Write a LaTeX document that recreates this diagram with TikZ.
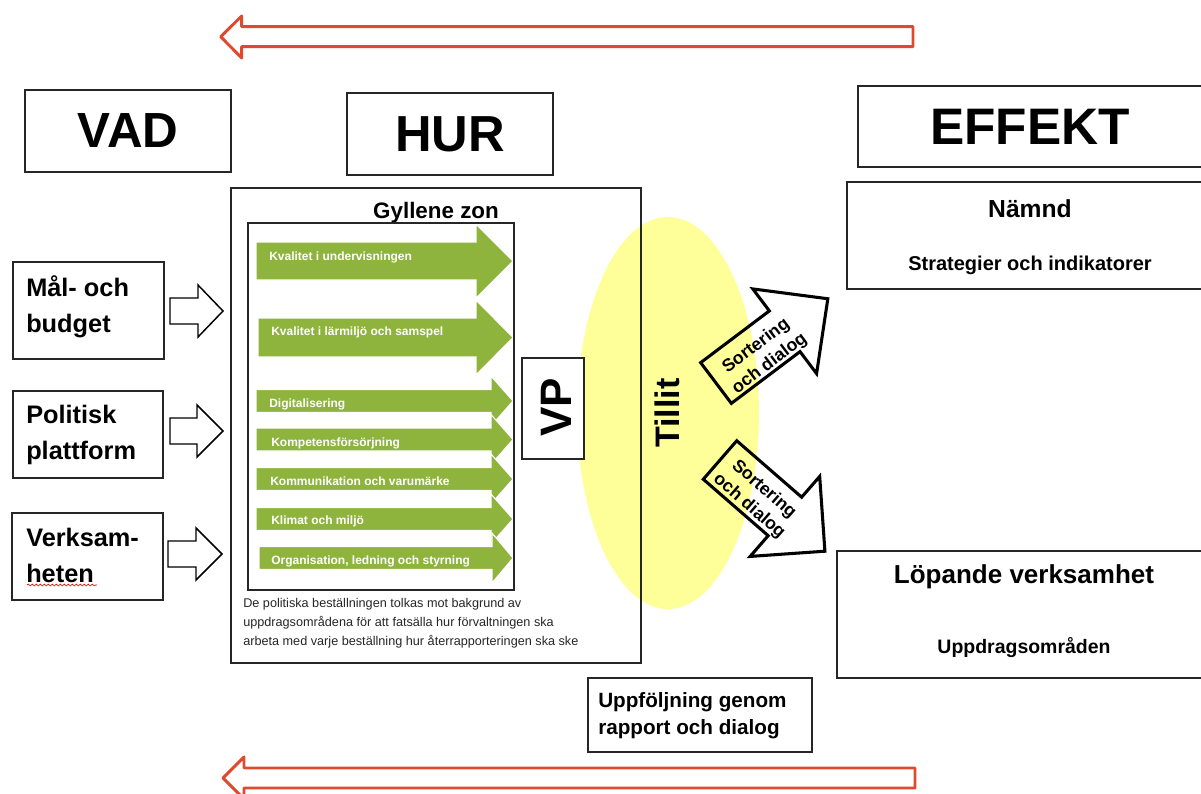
\documentclass[tikz,border=0pt]{standalone}
\usepackage{fontspec}
\setmainfont{Liberation Sans}
\usetikzlibrary{fit,shapes.geometric,decorations.pathmorphing}
\definecolor{gzgreen}{RGB}{142,180,62}
\definecolor{tyellow}{RGB}{255,255,153}
\definecolor{ared}{RGB}{224,74,44}
\newcommand\fsz[2]{\fontsize{#1}{#2}\selectfont}
% green arrow: start x, centre y, body half, head half, head base x, tip x
\newcommand\garrow[6]{\draw[garr] (#1,{#2-#3}) -- (#5,{#2-#3}) -- (#5,{#2-#4}) -- (#6,#2) -- (#5,{#2+#4}) -- (#5,{#2+#3}) -- (#1,{#2+#3}) -- cycle;}
% white block arrow: start x, centre y, head base x, tip x
\newcommand\warrow[4]{\draw[whitearrow] (#1,{#2-13}) -- (#3,{#2-13}) -- (#3,{#2-26}) -- (#4,#2) -- (#3,{#2+26}) -- (#3,{#2+13}) -- (#1,{#2+13}) -- cycle;}
\begin{document}
\begin{tikzpicture}[x=0.75pt,y=-0.75pt,
  box/.style={draw=black!85,line width=0.8pt,inner sep=0pt},
  redarrow/.style={draw=ared,line width=2.2pt,line join=round},
  whitearrow/.style={draw=black,line width=1.1pt,fill=white},
  garr/.style={fill=gzgreen,draw=white,line width=0.8pt},
  glabel/.style={anchor=mid west,inner sep=0pt,text=white,font=\fsz{9}{11}\bfseries},
  sortarrow/.style={draw=black,line width=2.3pt},
  sortlabel/.style={inner sep=0pt,align=center,font=\fsz{13.3}{16.8}\bfseries},
  boxtext/.style={anchor=north west,inner sep=0pt,align=left,font=\fsz{19}{27}\bfseries},
  head/.style={inner sep=0pt,font=\fsz{#1}{#1}\bfseries},
  ]
\useasboundingbox (0,0) rectangle (1201,793);

% red return arrows
\draw[redarrow] (220.7,36.7) -- (241.7,16) -- (241.7,26.7) -- (913,26.7) -- (913,46.7) -- (241.7,46.7) -- (241.7,58) -- cycle;
\draw[redarrow] (223,778) -- (244,757) -- (244,768) -- (915,768) -- (915,788) -- (244,788) -- (244,799) -- cycle;

% header boxes
\node[box,fit={(25,90)(231,172)}] (vad) {};
\node[head=37] (vadt) at (vad.center) {VAD};
\node[box,fit={(347,93)(553,175)}] (hur) {};
\node[head=38] (hurt) at (hur.center) {HUR};
\node[box,fit={(858,86)(1215,167)}] (eff) {};
\node[head=38.5] (efft) at (1030,127) {EFFEKT};

% yellow ellipse (Tillit)
\node[ellipse,fill=tyellow,inner sep=0pt,minimum width=136.5pt,minimum height=294pt] (tillit) at (668,413) {};
\node[rotate=90,inner sep=0pt,font=\fsz{25.5}{25.5}\bfseries] (tillitt) at (667.5,413) {Tillit};

% left boxes
\node[box,fit={(13,262)(164,359)}] (mb) {};
\node[boxtext] (mbt) at (26,275) {Mål- och\\budget};
\node[box,fit={(13,391)(163,478)}] (pp) {};
\node[boxtext] (ppt) at (26,404.5) {Politisk\\plattform};
\node[box,fit={(12,513)(163,600)}] (vh) {};
\node[boxtext] (vht) at (26,527.5) {Verksam-\\heten};
\draw[red,line width=0.5pt,decorate,decoration={snake,amplitude=0.7pt,segment length=3pt}] (27,585) -- (97,585);

% white block arrows
\warrow{170}{311}{198}{223}
\warrow{170}{431}{197}{223}
\warrow{168}{554}{196}{222}

% HUR area
\node[box,fit={(231,188)(641,663)}] (zone) {};
\node[anchor=base,inner sep=0pt,font=\fsz{16.8}{16.8}\bfseries] (gz) at (436,218) {Gyllene zon};

\garrow{256}{261}{19}{37}{476}{513}
\garrow{258}{337.5}{19.5}{37.5}{476}{513}
\garrow{256}{401}{11.5}{25}{491}{513}
\garrow{256}{439.5}{11.5}{25}{491}{513}
\garrow{256}{479}{11.5}{25}{491}{513}
\garrow{256}{519}{11.5}{25}{491}{513}
\garrow{259}{558}{11.5}{25}{492}{513}
\node[box,fit={(248,223)(514,590)}] (inner) {};

\node[glabel] (g1) at (269,257) {Kvalitet i undervisningen};
\node[glabel] (g2) at (271,332) {Kvalitet i lärmiljö och samspel};
\node[glabel] (g3) at (269,404) {Digitalisering};
\node[glabel] (g4) at (271,443) {Kompetensförsörjning};
\node[glabel] (g5) at (270,482) {Kommunikation och varumärke};
\node[glabel] (g6) at (271,521) {Klimat och miljö};
\node[glabel] (g7) at (271,561) {Organisation, ledning och styrning};

\node[anchor=north west,inner sep=0pt,align=left,text=black!85,font=\fsz{9.5}{14.25}] (cap) at (243,598)
  {De politiska beställningen tolkas mot bakgrund av\\uppdragsområdena för att fatsälla hur förvaltningen ska\\arbeta med varje beställning hur återrapporteringen ska ske};

% VP
\node[box,fill=white,fit={(522,358)(584,459)}] (vp) {};
\node[rotate=90,inner sep=0pt,font=\fsz{33}{33}\bfseries] (vpt) at (556,407) {VP};

% sorting arrows
\begin{scope}[shift={(716,383)},rotate=37]
\draw[sortarrow] (0,-25.5) -- (86,-25.5) -- (86,-53) -- (140,0) -- (86,53) -- (86,25.5) -- (0,25.5) -- cycle;
\end{scope}
\node[sortlabel,rotate=37] (s1) at (763,355) {Sortering\\och dialog};
\begin{scope}[shift={(720,460)},rotate=-41]
\draw[sortarrow] (0,-25.5) -- (86,-25.5) -- (86,-53) -- (139,0) -- (86,53) -- (86,25.5) -- (0,25.5) -- cycle;
\end{scope}
\node[sortlabel,rotate=-41] (s2) at (756.5,498) {Sortering\\och dialog};

% right boxes
\node[box,fit={(847,182)(1215,289)}] (namnd) {};
\node[anchor=base,inner sep=0pt,font=\fsz{18.5}{18.5}\bfseries] (namndt) at (1030,217) {Nämnd};
\node[anchor=base,inner sep=0pt,font=\fsz{15}{15}\bfseries] (strat) at (1030,270) {Strategier och indikatorer};
\node[box,fit={(837,551)(1215,678)}] (lop) {};
\node[anchor=base,inner sep=0pt,font=\fsz{19.5}{19.5}\bfseries] (lopt) at (1024,583) {Löpande verksamhet};
\node[anchor=base,inner sep=0pt,font=\fsz{14.6}{14.6}\bfseries] (uppd) at (1024,653) {Uppdragsområden};

% follow-up box
\node[box,fit={(588,678)(812,752)}] (upf) {};
\node[anchor=north west,inner sep=0pt,align=left,font=\fsz{15.5}{20.25}\bfseries] (upft) at (598,692) {Uppföljning genom\\rapport och dialog};
\end{tikzpicture}
\end{document}
